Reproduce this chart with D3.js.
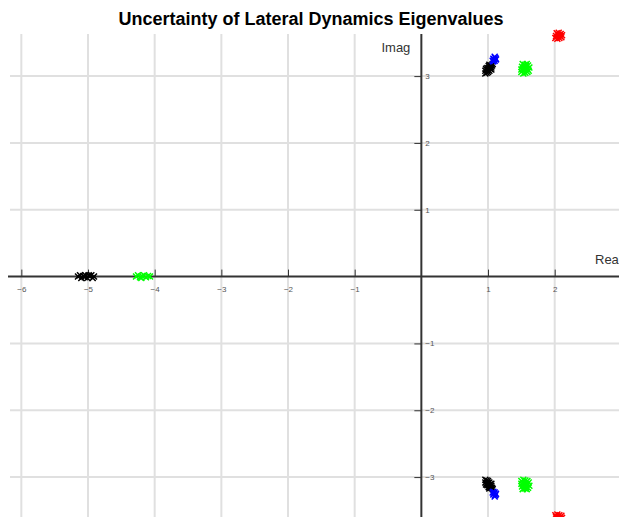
<!DOCTYPE html>
<html>
<head>
<meta charset="utf-8">
<script src="https://cdn.jsdelivr.net/npm/d3@7"></script>
<style>
  body { margin: 0; background: #fff; }
  svg { display: block; font-family: "Liberation Sans", Arial, sans-serif; }
</style>
</head>
<body>
<div id="chart"></div>
<script>
// tick values on each axis
const realTicks = [-6, -5, -4, -3, -2, -1, 1, 2, 3];
const imagTicks = [-3, -2, -1, 1, 2, 3];

// eigenvalue samples [real, imag], one array per colour group
const blackUpper = [[0.96,3.04],[0.98,3.05],[1.00,3.06],[0.96,3.08],[0.98,3.09],[1.00,3.09],[1.02,3.08],[1.03,3.11],[0.99,3.12],
  [1.01,3.12],[1.03,3.14],[1.05,3.13],[1.01,3.15],[1.04,3.16],[1.06,3.16],[1.07,3.18],[1.05,3.10],[0.97,3.11],[1.02,3.17]];
const blackLower = [[0.96,-3.04],[0.98,-3.05],[1.00,-3.06],[0.96,-3.08],[0.98,-3.09],[1.00,-3.09],[1.02,-3.08],[1.03,-3.11],[0.99,-3.12],
  [1.01,-3.12],[1.03,-3.14],[1.05,-3.13],[1.01,-3.15],[1.04,-3.16],[1.06,-3.16],[1.07,-3.18],[1.05,-3.10],[0.97,-3.11],[1.02,-3.17]];
const blackReal = [[-5.15,0],[-5.12,0.02],[-5.10,-0.02],[-5.07,0.01],[-5.04,0.02],[-5.01,-0.02],[-4.98,0.01],[-4.95,0.02],[-4.93,-0.02],
  [-4.91,0],[-5.05,-0.01],[-4.99,0.02]];

const blueUpper = [[1.07,3.23],[1.09,3.25],[1.11,3.27],[1.10,3.23],[1.08,3.26],[1.12,3.25],[1.10,3.29],[1.08,3.22]];
const blueLower = [[1.07,-3.23],[1.09,-3.25],[1.11,-3.27],[1.10,-3.23],[1.08,-3.26],[1.12,-3.25],[1.10,-3.29],[1.08,-3.22]];

const greenUpper = [[1.50,3.06],[1.53,3.04],[1.56,3.05],[1.59,3.06],[1.61,3.08],[1.50,3.10],[1.53,3.09],[1.56,3.10],[1.59,3.11],
  [1.62,3.13],[1.51,3.14],[1.54,3.13],[1.57,3.15],[1.60,3.16],[1.55,3.17],[1.52,3.18],[1.58,3.18],[1.56,3.12]];
const greenLower = [[1.50,-3.06],[1.53,-3.04],[1.56,-3.05],[1.59,-3.06],[1.61,-3.08],[1.50,-3.10],[1.53,-3.09],[1.56,-3.10],[1.59,-3.11],
  [1.62,-3.13],[1.51,-3.14],[1.54,-3.13],[1.57,-3.15],[1.60,-3.16],[1.55,-3.17],[1.52,-3.18],[1.58,-3.18],[1.56,-3.12]];
const greenReal = [[-4.28,0],[-4.25,0.02],[-4.22,-0.01],[-4.19,0.01],[-4.16,0.02],[-4.13,-0.01],[-4.10,0.01],[-4.07,0],[-4.20,-0.02]];

const redUpper = [[2.01,3.57],[2.04,3.56],[2.07,3.57],[2.10,3.58],[2.02,3.60],[2.05,3.61],[2.08,3.60],[2.11,3.61],[2.03,3.64],[2.06,3.65],[2.09,3.63],[2.07,3.62]];
const redLower = [[2.01,-3.57],[2.04,-3.56],[2.07,-3.57],[2.10,-3.58],[2.02,-3.60],[2.05,-3.61],[2.08,-3.60],[2.11,-3.61],[2.03,-3.64],[2.06,-3.65],[2.09,-3.63],[2.07,-3.62]];

const groups = [
  {color: '#000000', pts: blackReal},
  {color: '#00ff00', pts: greenReal},
  {color: '#000000', pts: blackUpper},
  {color: '#000000', pts: blackLower},
  {color: '#0000ff', pts: blueUpper},
  {color: '#0000ff', pts: blueLower},
  {color: '#00ff00', pts: greenUpper},
  {color: '#00ff00', pts: greenLower},
  {color: '#ff0000', pts: redUpper},
  {color: '#ff0000', pts: redLower}
];

const width = 619, height = 517;

const svg = d3.select('#chart')
  .append('svg')
    .attr('width', width)
    .attr('height', height);

const x = d3.scaleLinear().domain([-6.2, 3.2]).range([8, 8 + 9.4 * 66.67]);
const y = d3.scaleLinear().domain([-3.63, 3.63]).range([34 + 7.26 * 66.83, 34]);

// grid
const grid = svg.append('g');
grid.selectAll('line.v')
  .data(realTicks)
  .enter().append('line')
    .attr('x1', d => x(d)).attr('x2', d => x(d))
    .attr('y1', y(3.63)).attr('y2', height)
    .attr('stroke', '#e0e0e0').attr('stroke-width', 2);
grid.selectAll('line.h')
  .data(imagTicks)
  .enter().append('line')
    .attr('x1', 10).attr('x2', width)
    .attr('y1', d => y(d)).attr('y2', d => y(d))
    .attr('stroke', '#e0e0e0').attr('stroke-width', 2);

// axes through the origin
const xAxisGroup = svg.append('g').attr('transform', `translate(0,${y(0)})`);
const yAxisGroup = svg.append('g').attr('transform', `translate(${x(0)},0)`);

const xAxis = d3.axisTop(x).tickValues(realTicks).tickSize(7).tickSizeOuter(0).tickFormat(d3.format('d'));
const yAxis = d3.axisLeft(y).tickValues(imagTicks).tickSize(7).tickSizeOuter(0).tickFormat(d3.format('d'));

xAxisGroup.call(xAxis);
yAxisGroup.call(yAxis);

xAxisGroup.select('.domain').remove();
yAxisGroup.select('.domain').remove();
xAxisGroup.append('line').attr('x1', 8).attr('x2', width).attr('stroke', '#333').attr('stroke-width', 2);
yAxisGroup.append('line').attr('y1', 34).attr('y2', height).attr('stroke', '#333').attr('stroke-width', 2);

xAxisGroup.selectAll('.tick line').attr('stroke', '#333');
yAxisGroup.selectAll('.tick line').attr('stroke', '#333');
xAxisGroup.selectAll('.tick text')
  .attr('y', 10).attr('dy', '0.71em')
  .attr('font-size', 8).attr('fill', '#555');
yAxisGroup.selectAll('.tick text')
  .attr('x', 4).attr('text-anchor', 'start')
  .attr('font-size', 8).attr('fill', '#555');

// axis names
svg.append('text')
  .attr('x', x(0) - 11).attr('y', 52)
  .attr('text-anchor', 'end')
  .attr('font-size', 13).attr('fill', '#333')
  .text('Imag');
svg.append('text')
  .attr('x', 595).attr('y', 264)
  .attr('font-size', 13).attr('fill', '#333')
  .text('Real');

// eigenvalue markers
const cross = 'M-3,-3L3,3M-3,3L3,-3';
groups.forEach(g => {
  svg.append('g').selectAll('path')
    .data(g.pts)
    .enter().append('path')
      .attr('d', cross)
      .attr('transform', d => `translate(${x(d[0])},${y(d[1])})`)
      .attr('stroke', g.color)
      .attr('stroke-width', 1.5)
      .attr('fill', 'none');
});

// title
svg.append('text')
  .attr('x', 311).attr('y', 25)
  .attr('text-anchor', 'middle')
  .attr('font-size', 18).attr('font-weight', 'bold')
  .text('Uncertainty of Lateral Dynamics Eigenvalues');
</script>
</body>
</html>
